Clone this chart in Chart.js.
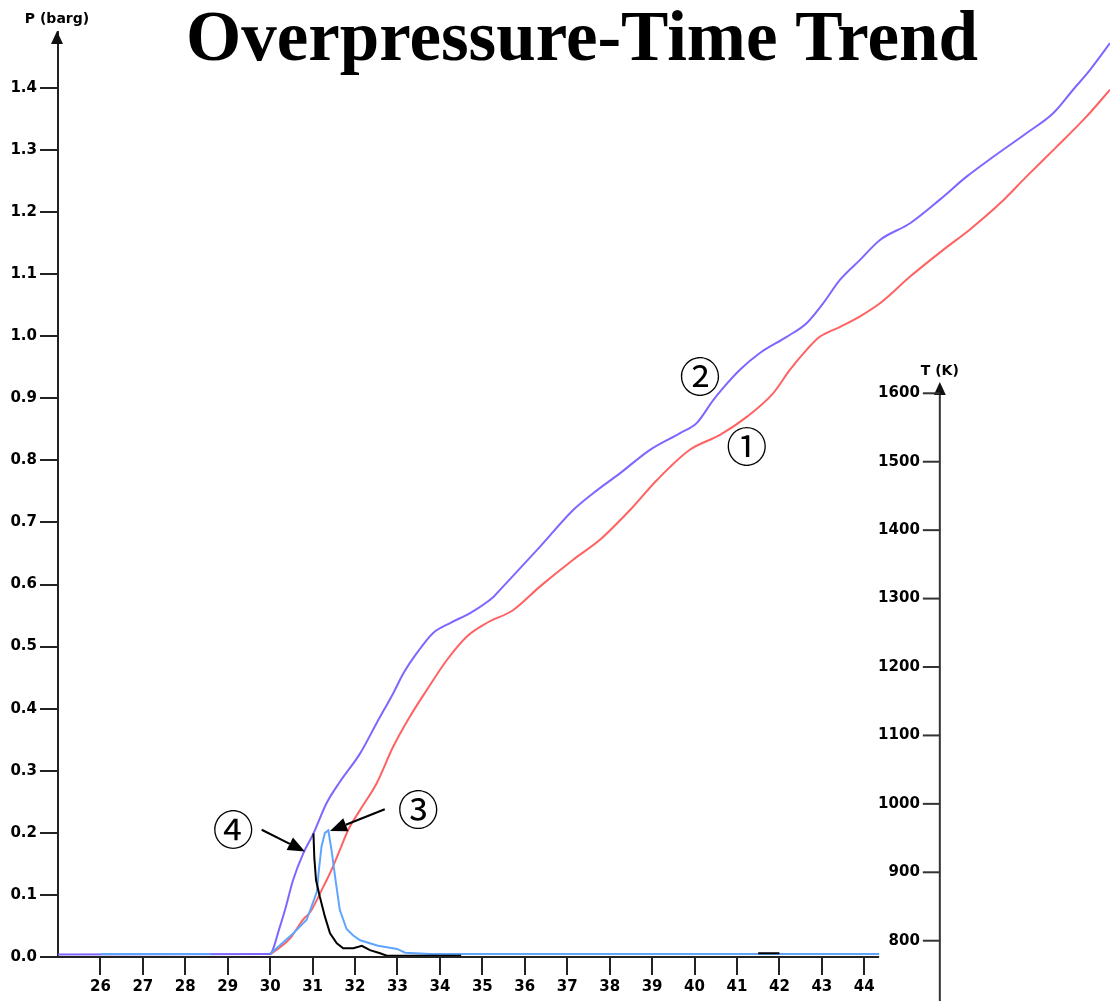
<!DOCTYPE html>
<html><head><meta charset="utf-8">
<script src="https://cdn.jsdelivr.net/npm/chart.js@4"></script>
<style>html,body{margin:0;padding:0;background:#fff;}canvas{display:block;}</style>
</head><body>
<canvas id="c" width="1110" height="1001"></canvas>
<script>
// ---- data ----
const xTicks = [26,27,28,29,30,31,32,33,34,35,36,37,38,39,40,41,42,43,44];
const pTicks = [0.0,0.1,0.2,0.3,0.4,0.5,0.6,0.7,0.8,0.9,1.0,1.1,1.2,1.3,1.4];
const tTicks = [800,900,1000,1100,1200,1300,1400,1500,1600];

// series ① (red)
const s1Time = [30.0,30.47,30.77,30.94,31.10,31.25,31.41,31.64,31.84,32.12,32.51,32.90,33.29,33.69,34.16,34.63,35.10,35.73,36.36,37.14,37.77,38.48,39.11,39.89,40.60,41.23,41.85,42.25,42.64,42.95,43.43,43.90,44.37,45.08,45.86,46.49,47.20,47.82,48.53,49.24,49.79];
const s1P    = [0.004,0.030,0.060,0.072,0.092,0.113,0.135,0.172,0.205,0.237,0.280,0.339,0.387,0.430,0.478,0.516,0.538,0.559,0.597,0.640,0.672,0.720,0.768,0.817,0.841,0.870,0.908,0.946,0.978,0.999,1.015,1.032,1.053,1.096,1.139,1.172,1.214,1.257,1.305,1.354,1.397];

// series ② (purple)
const s2Time = [25.0,29.99,30.23,30.35,30.54,30.78,31.02,31.33,31.64,32.12,32.51,32.90,33.14,33.45,33.84,34.24,34.71,35.26,35.41,36.36,37.14,37.61,38.24,38.95,39.66,40.05,40.44,40.64,41.07,41.54,42.17,42.64,43.03,43.43,43.90,44.37,45.08,45.78,46.41,47.04,47.82,48.45,48.92,49.32,49.79];
const s2P    = [0.004,0.005,0.049,0.076,0.124,0.167,0.199,0.248,0.282,0.328,0.377,0.425,0.457,0.489,0.522,0.538,0.554,0.580,0.591,0.661,0.720,0.747,0.779,0.817,0.844,0.860,0.897,0.914,0.946,0.973,0.999,1.021,1.053,1.091,1.123,1.155,1.182,1.220,1.257,1.289,1.327,1.359,1.397,1.429,1.472];

// series ③ (light blue)
const s3Time = [26.0,28.6,28.7,30.0,30.54,30.86,31.10,31.14,31.21,31.29,31.37,31.45,31.53,31.64,31.80,31.95,32.12,32.54,32.99,33.18,33.77,44.35];
const s3P    = [0.005,0.005,null,0.005,0.038,0.060,0.105,0.135,0.178,0.200,0.204,0.170,0.129,0.076,0.045,0.035,0.027,0.018,0.013,0.007,0.005,0.005];

// series ④ (black)
const s4Time = [31.02,31.04,31.08,31.17,31.29,31.41,31.57,31.72,31.96,32.16,32.35,32.59,32.75,34.50,34.60,41.50,42.00];
const s4P    = [0.199,0.160,0.124,0.097,0.065,0.038,0.022,0.014,0.014,0.018,0.011,0.006,0.002,0.002,null,0.006,0.006];

// ---- annotation placement (data coordinates) ----
const labelMarks = [
  {text:'①', t:41.23, p:0.822},
  {text:'②', t:40.13, p:0.935},
  {text:'③', t:33.49, p:0.237},
  {text:'④', t:29.13, p:0.205}
];
const arrowMarks = [
  {t0:29.80, p0:0.205, t1:30.82, p1:0.170},
  {t0:32.70, p0:0.238, t1:31.41, p1:0.203}
];
const xAxisEnd = 44.35;
const tAxisAt = 45.78;
const tAxisTop = 1615;

const toPts = (ts, ps) => ts.map((t,i) => ({x:t, y:ps[i]}));

const overlay = {
  id:'overlay',
  afterDraw(chart){
    const {ctx, chartArea:ca} = chart;
    const xs = chart.scales.x, ys = chart.scales.y, ts = chart.scales.yT;
    ctx.save();
    ctx.strokeStyle = '#222'; ctx.fillStyle = '#000'; ctx.lineWidth = 2;
    // x axis line
    ctx.beginPath();
    ctx.moveTo(ca.left-2, ca.bottom); ctx.lineTo(xs.getPixelForValue(xAxisEnd), ca.bottom); ctx.stroke();
    // y axis arrow
    const yx = ca.left - 1;
    ctx.beginPath(); ctx.moveTo(yx, ca.top-1); ctx.lineTo(yx-6, ca.top+12); ctx.lineTo(yx+6, ca.top+12); ctx.closePath(); ctx.fillStyle='#111'; ctx.fill();
    ctx.font = 'bold 14px "DejaVu Sans"'; ctx.textAlign='center'; ctx.textBaseline='middle'; ctx.fillStyle='#000';
    ctx.fillText('P (barg)', yx, 19);
    // T axis
    const tx = xs.getPixelForValue(tAxisAt);
    const tTopPx = ts.getPixelForValue(tAxisTop);
    ctx.strokeStyle = '#333';
    ctx.beginPath(); ctx.moveTo(tx, tTopPx+4); ctx.lineTo(tx, chart.height); ctx.stroke();
    ctx.beginPath(); ctx.moveTo(tx, tTopPx-1); ctx.lineTo(tx-6, tTopPx+12); ctx.lineTo(tx+6, tTopPx+12); ctx.closePath(); ctx.fillStyle='#111'; ctx.fill();
    ctx.fillStyle='#000';
    ctx.fillText('T (K)', tx, tTopPx-12);
    ctx.font = 'bold 15px "DejaVu Sans"';
    ctx.textAlign='right';
    tTicks.forEach(v => {
      const py = ts.getPixelForValue(v);
      ctx.beginPath(); ctx.moveTo(tx-17, py); ctx.lineTo(tx, py); ctx.stroke();
      ctx.fillText(String(v), tx-20, py);
    });
    // arrows
    ctx.strokeStyle='#000'; ctx.fillStyle='#000'; ctx.lineWidth=2;
    arrowMarks.forEach(a => {
      const x0 = xs.getPixelForValue(a.t0), y0 = ys.getPixelForValue(a.p0);
      const x1 = xs.getPixelForValue(a.t1), y1 = ys.getPixelForValue(a.p1);
      const ang = Math.atan2(y1-y0, x1-x0);
      const hl = 17, hw = 7;
      const bx = x1 - hl*Math.cos(ang), by = y1 - hl*Math.sin(ang);
      ctx.beginPath(); ctx.moveTo(x0,y0); ctx.lineTo(bx,by); ctx.stroke();
      ctx.beginPath(); ctx.moveTo(x1,y1);
      ctx.lineTo(bx + hw*Math.sin(ang), by - hw*Math.cos(ang));
      ctx.lineTo(bx - hw*Math.sin(ang), by + hw*Math.cos(ang));
      ctx.closePath(); ctx.fill();
    });
    // circled labels
    ctx.font = '41px "Noto Sans CJK JP"'; ctx.textAlign='center'; ctx.textBaseline='middle';
    labelMarks.forEach(m => ctx.fillText(m.text, xs.getPixelForValue(m.t), ys.getPixelForValue(m.p)));
    // title
    ctx.font = 'bold 71px "Liberation Serif"'; ctx.textBaseline='alphabetic';
    ctx.fillText('Overpressure-Time Trend', 582, 60);
    ctx.restore();
  }
};

new Chart(document.getElementById('c'), {
  type:'line',
  data:{
    datasets:[
      {label:'④', data:toPts(s4Time,s4P), borderColor:'#000000', borderWidth:2, pointRadius:0},
      {label:'③', data:toPts(s3Time,s3P), borderColor:'#5fa5ff', borderWidth:2, pointRadius:0},
      {label:'②', data:toPts(s2Time,s2P), borderColor:'#7f66ff', borderWidth:2, pointRadius:0, cubicInterpolationMode:'monotone'},
      {label:'①', data:toPts(s1Time,s1P), borderColor:'#ff6262', borderWidth:2, pointRadius:0, cubicInterpolationMode:'monotone'}
    ]
  },
  options:{
    responsive:false, animation:false, devicePixelRatio:1,
    spanGaps:false,
    layout:{padding:{top:32,left:0,right:0,bottom:0}},
    plugins:{legend:{display:false}, tooltip:{enabled:false}, title:{display:false}},
    elements:{line:{tension:0}},
    scales:{
      x:{type:'linear', min:25, max:49.79,
        afterBuildTicks:s => { s.ticks = xTicks.map(v => ({value:v})); },
        afterFit:s => { s.height = 44; },
        border:{display:false},
        grid:{drawOnChartArea:false, tickLength:18, color:'#222', lineWidth:2},
        ticks:{font:{family:'"DejaVu Sans"', size:15, weight:'bold'}, color:'#000', padding:3, maxRotation:0, autoSkip:false, callback:v => String(v)}
      },
      y:{type:'linear', min:0, max:1.49, position:'left',
        afterBuildTicks:s => { s.ticks = pTicks.map(v => ({value:v})); },
        afterFit:s => { s.width = 58; },
        border:{display:true, color:'#222', width:2},
        grid:{drawOnChartArea:false, tickLength:18, color:'#222', lineWidth:2},
        ticks:{font:{family:'"DejaVu Sans"', size:15, weight:'bold'}, color:'#000', padding:3, autoSkip:false, callback:v => Number(v).toFixed(1)}
      },
      yT:{type:'linear', display:false, min:776.2, max:2128, position:'left'}
    }
  },
  plugins:[overlay]
});
</script>
</body></html>
